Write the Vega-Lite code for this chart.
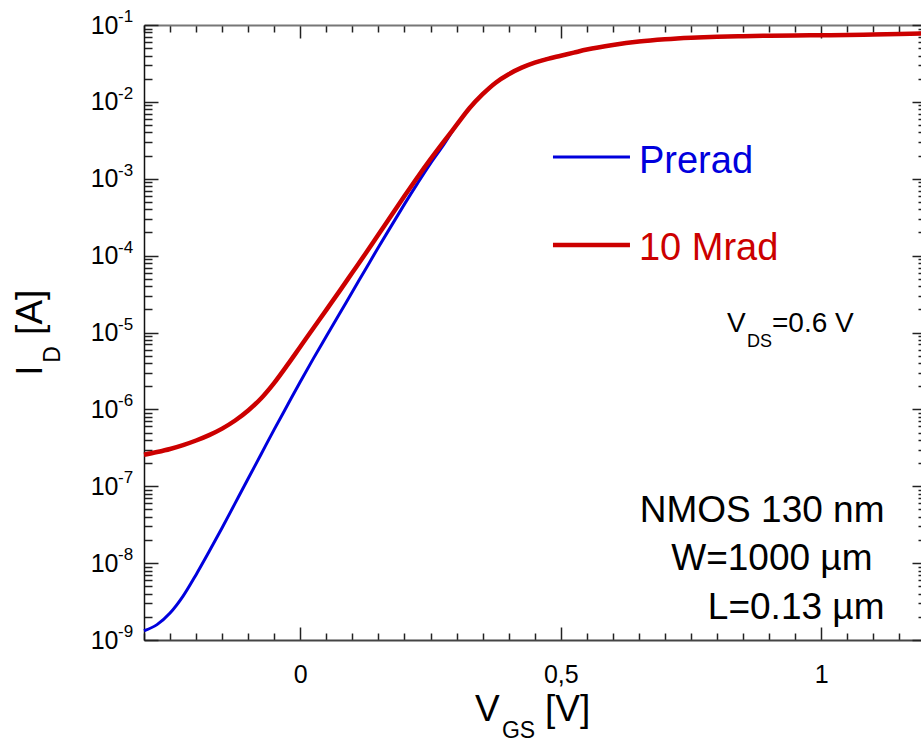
{
"$schema":"https://vega.github.io/schema/vega-lite/v6.json",
"width":777,"height":615,"autosize":"none",
"padding":{"left":144,"top":25,"right":0,"bottom":105},
"background":"white",
"config":{"view":{"stroke":null},"axis":{"grid":false,"labelFont":"Liberation Sans","labelColor":"black","title":null},"text":{"font":"Liberation Sans","color":"black"}},
"datasets":{
"pre":[
{"v":-0.3,"i":1.318e-9},{"v":-0.275,"i":1.585e-9},{"v":-0.25,"i":2.239e-9},{"v":-0.225,"i":3.715e-9},{"v":-0.2,"i":7.079e-9},{"v":-0.175,"i":1.413e-8},{"v":-0.15,"i":2.884e-8},{"v":-0.125,"i":6.026e-8},{"v":-0.1,"i":1.259e-7},{"v":-0.075,"i":2.630e-7},{"v":-0.05,"i":5.495e-7},{"v":-0.025,"i":1.122e-6},{"v":0,"i":2.291e-6},{"v":0.025,"i":4.571e-6},{"v":0.05,"i":8.913e-6},{"v":0.075,"i":1.738e-5},{"v":0.1,"i":3.388e-5},{"v":0.125,"i":6.607e-5},{"v":0.15,"i":1.288e-4},{"v":0.175,"i":2.455e-4},{"v":0.2,"i":4.677e-4},{"v":0.225,"i":8.710e-4},{"v":0.25,"i":1.585e-3},{"v":0.275,"i":2.754e-3},{"v":0.3,"i":5.012e-3},{"v":0.325,"i":8.318e-3},{"v":0.35,"i":1.259e-2},{"v":0.375,"i":1.778e-2},{"v":0.4,"i":2.291e-2},{"v":0.425,"i":2.786e-2},{"v":0.45,"i":3.236e-2},{"v":0.475,"i":3.631e-2},{"v":0.5,"i":3.981e-2},{"v":0.525,"i":4.37e-2},{"v":0.55,"i":4.79e-2},{"v":0.6,"i":5.50e-2},{"v":0.65,"i":6.10e-2},{"v":0.7,"i":6.53e-2},{"v":0.75,"i":6.84e-2},{"v":0.8,"i":7.05e-2},{"v":0.85,"i":7.16e-2},{"v":0.9,"i":7.24e-2},{"v":0.95,"i":7.31e-2},{"v":1.0,"i":7.36e-2},{"v":1.05,"i":7.41e-2},{"v":1.1,"i":7.50e-2},{"v":1.15,"i":7.62e-2},{"v":1.2,"i":7.76e-2}],
"rad":[
{"v":-0.3,"i":2.570e-7},{"v":-0.275,"i":2.786e-7},{"v":-0.25,"i":3.055e-7},{"v":-0.225,"i":3.428e-7},{"v":-0.2,"i":3.936e-7},{"v":-0.175,"i":4.624e-7},{"v":-0.15,"i":5.623e-7},{"v":-0.125,"i":7.161e-7},{"v":-0.1,"i":9.661e-7},{"v":-0.075,"i":1.396e-6},{"v":-0.05,"i":2.213e-6},{"v":-0.025,"i":3.758e-6},{"v":0,"i":6.531e-6},{"v":0.025,"i":1.135e-5},{"v":0.05,"i":1.972e-5},{"v":0.075,"i":3.428e-5},{"v":0.1,"i":6.026e-5},{"v":0.125,"i":1.059e-4},{"v":0.15,"i":1.884e-4},{"v":0.175,"i":3.350e-4},{"v":0.2,"i":5.957e-4},{"v":0.225,"i":1.047e-3},{"v":0.25,"i":1.799e-3},{"v":0.275,"i":3.020e-3},{"v":0.3,"i":5.012e-3},{"v":0.325,"i":8.318e-3},{"v":0.35,"i":1.259e-2},{"v":0.375,"i":1.778e-2},{"v":0.4,"i":2.291e-2},{"v":0.425,"i":2.786e-2},{"v":0.45,"i":3.236e-2},{"v":0.475,"i":3.631e-2},{"v":0.5,"i":3.981e-2},{"v":0.525,"i":4.37e-2},{"v":0.55,"i":4.79e-2},{"v":0.6,"i":5.50e-2},{"v":0.65,"i":6.10e-2},{"v":0.7,"i":6.53e-2},{"v":0.75,"i":6.84e-2},{"v":0.8,"i":7.05e-2},{"v":0.85,"i":7.16e-2},{"v":0.9,"i":7.24e-2},{"v":0.95,"i":7.31e-2},{"v":1.0,"i":7.36e-2},{"v":1.05,"i":7.41e-2},{"v":1.1,"i":7.50e-2},{"v":1.15,"i":7.62e-2},{"v":1.2,"i":7.76e-2}],
"exps":[{"v":0.1,"e":"-1"},{"v":0.01,"e":"-2"},{"v":0.001,"e":"-3"},{"v":0.0001,"e":"-4"},{"v":1e-5,"e":"-5"},{"v":1e-6,"e":"-6"},{"v":1e-7,"e":"-7"},{"v":1e-8,"e":"-8"},{"v":1e-9,"e":"-9"}],
"one":[{}]
},
"layer":[
{"data":{"name":"pre"},"mark":{"type":"line","strokeOpacity":0},
 "encoding":{
  "x":{"field":"v","type":"quantitative","scale":{"domain":[-0.3,1.1914],"nice":false,"zero":false},
   "axis":{"orient":"top","labels":false,"values":[-0.3,-0.25,-0.2,-0.15,-0.1,-0.05,0,0.05,0.1,0.15,0.2,0.25,0.3,0.35,0.4,0.45,0.5,0.55,0.6,0.65,0.7,0.75,0.8,0.85,0.9,0.95,1,1.05,1.1,1.15],
    "tickSize":{"condition":{"test":"abs(datum.value*2 - round(datum.value*2)) < 0.001","value":-13},"value":-7},
    "tickColor":"#222","tickWidth":1.5,"domainColor":"#777","domainWidth":2}},
  "y":{"field":"i","type":"quantitative","scale":{"type":"log","domain":[1e-9,0.1],"nice":false},
   "axis":{"orient":"right","offset":5,"labels":false,"values":[1e-9,2e-9,3e-9,4e-9,5e-9,6e-9,7e-9,8e-9,9e-9,1e-8,2e-8,3e-8,4e-8,5e-8,6e-8,7e-8,8e-8,9e-8,1e-7,2e-7,3e-7,4e-7,5e-7,6e-7,7e-7,8e-7,9e-7,1e-6,2e-6,3e-6,4e-6,5e-6,6e-6,7e-6,8e-6,9e-6,1e-5,2e-5,3e-5,4e-5,5e-5,6e-5,7e-5,8e-5,9e-5,1e-4,2e-4,3e-4,4e-4,5e-4,6e-4,7e-4,8e-4,9e-4,1e-3,2e-3,3e-3,4e-3,5e-3,6e-3,7e-3,8e-3,9e-3,1e-2,2e-2,3e-2,4e-2,5e-2,6e-2,7e-2,8e-2,9e-2,1e-1],
    "tickSize":{"condition":{"test":"abs(log(datum.value)/LN10 - round(log(datum.value)/LN10)) < 0.001","value":-14},"value":-8},
    "tickColor":"#222","tickWidth":1.5,"domainColor":"#777","domainWidth":2}}}},
{"data":{"name":"pre"},"mark":{"type":"line","color":"#0000dd","strokeWidth":3,"interpolate":"monotone"},
 "encoding":{
  "x":{"field":"v","type":"quantitative","scale":{"domain":[-0.3,1.1914],"nice":false,"zero":false},
   "axis":{"orient":"bottom","values":[-0.3,-0.25,-0.2,-0.15,-0.1,-0.05,0,0.05,0.1,0.15,0.2,0.25,0.3,0.35,0.4,0.45,0.5,0.55,0.6,0.65,0.7,0.75,0.8,0.85,0.9,0.95,1,1.05,1.1,1.15],
    "labelExpr":"abs(datum.value) < 0.001 ? '0' : abs(datum.value - 0.5) < 0.001 ? '0,5' : abs(datum.value - 1) < 0.001 ? '1' : ''",
    "labelFontSize":25,"labelPadding":35,"labelOverlap":false,"labelFlush":false,"labelBound":false,
    "tickSize":{"condition":{"test":"abs(datum.value*2 - round(datum.value*2)) < 0.001","value":-13},"value":-7},
    "tickColor":"#222","tickWidth":1.5,"domainColor":"#444","domainWidth":2}},
  "y":{"field":"i","type":"quantitative","scale":{"type":"log","domain":[1e-9,0.1],"nice":false},
   "axis":{"orient":"left","values":[1e-9,2e-9,3e-9,4e-9,5e-9,6e-9,7e-9,8e-9,9e-9,1e-8,2e-8,3e-8,4e-8,5e-8,6e-8,7e-8,8e-8,9e-8,1e-7,2e-7,3e-7,4e-7,5e-7,6e-7,7e-7,8e-7,9e-7,1e-6,2e-6,3e-6,4e-6,5e-6,6e-6,7e-6,8e-6,9e-6,1e-5,2e-5,3e-5,4e-5,5e-5,6e-5,7e-5,8e-5,9e-5,1e-4,2e-4,3e-4,4e-4,5e-4,6e-4,7e-4,8e-4,9e-4,1e-3,2e-3,3e-3,4e-3,5e-3,6e-3,7e-3,8e-3,9e-3,1e-2,2e-2,3e-2,4e-2,5e-2,6e-2,7e-2,8e-2,9e-2,1e-1],
    "labelExpr":"abs(log(datum.value)/LN10 - round(log(datum.value)/LN10)) < 0.001 ? '10' : ''",
    "labelFontSize":25,"labelPadding":40,"labelOverlap":false,"labelFlush":false,"labelBound":false,
    "tickSize":{"condition":{"test":"abs(log(datum.value)/LN10 - round(log(datum.value)/LN10)) < 0.001","value":-14},"value":-8},
    "tickColor":"#222","tickWidth":1.5,"domainColor":"#111","domainWidth":1.5}}}},
{"data":{"name":"rad"},"mark":{"type":"line","color":"#cc0000","strokeWidth":4.5,"interpolate":"monotone"},
 "encoding":{"x":{"field":"v","type":"quantitative","axis":null},"y":{"field":"i","type":"quantitative","scale":{"type":"log"},"axis":null}}},
{"data":{"name":"exps"},"mark":{"type":"text","align":"left","baseline":"alphabetic","dx":-26,"dy":-3,"fontSize":17},
 "encoding":{"x":{"datum":-0.3,"type":"quantitative","axis":null},"y":{"field":"v","type":"quantitative","scale":{"type":"log"},"axis":null},"text":{"field":"e"}}},
{"data":{"name":"one"},"mark":{"type":"rule","color":"#0000dd","strokeWidth":3},
 "encoding":{"x":{"datum":0.485,"type":"quantitative","axis":null},"x2":{"datum":0.6328},"y":{"datum":1.92e-3,"type":"quantitative","scale":{"type":"log"},"axis":null}}},
{"data":{"name":"one"},"mark":{"type":"rule","color":"#cc0000","strokeWidth":4.5},
 "encoding":{"x":{"datum":0.485,"type":"quantitative","axis":null},"x2":{"datum":0.6328},"y":{"datum":1.377e-4,"type":"quantitative","scale":{"type":"log"},"axis":null}}},
{"data":{"name":"one"},"mark":{"type":"text","text":"Prerad","align":"left","baseline":"alphabetic","fontSize":38,"color":"#0000dd"},
 "encoding":{"x":{"datum":0.6501,"type":"quantitative","axis":null},"y":{"datum":1.19e-3,"type":"quantitative","scale":{"type":"log"},"axis":null}}},
{"data":{"name":"one"},"mark":{"type":"text","text":"10 Mrad","align":"left","baseline":"alphabetic","fontSize":38,"color":"#cc0000"},
 "encoding":{"x":{"datum":0.6501,"type":"quantitative","axis":null},"y":{"datum":8.79e-5,"type":"quantitative","scale":{"type":"log"},"axis":null}}},
{"data":{"name":"one"},"mark":{"type":"text","text":"V","align":"left","baseline":"alphabetic","fontSize":28},
 "encoding":{"x":{"datum":0.819,"type":"quantitative","axis":null},"y":{"datum":1.02e-5,"type":"quantitative","scale":{"type":"log"},"axis":null}}},
{"data":{"name":"one"},"mark":{"type":"text","text":"DS","align":"left","baseline":"alphabetic","fontSize":18},
 "encoding":{"x":{"datum":0.8574,"type":"quantitative","axis":null},"y":{"datum":6.5e-6,"type":"quantitative","scale":{"type":"log"},"axis":null}}},
{"data":{"name":"one"},"mark":{"type":"text","text":"=0.6 V","align":"left","baseline":"alphabetic","fontSize":28},
 "encoding":{"x":{"datum":0.9054,"type":"quantitative","axis":null},"y":{"datum":1.02e-5,"type":"quantitative","scale":{"type":"log"},"axis":null}}},
{"data":{"name":"one"},"mark":{"type":"text","text":"NMOS 130 nm","align":"right","baseline":"alphabetic","fontSize":37},
 "encoding":{"x":{"datum":1.1213,"type":"quantitative","axis":null},"y":{"datum":3.47e-8,"type":"quantitative","scale":{"type":"log"},"axis":null}}},
{"data":{"name":"one"},"mark":{"type":"text","text":"W=1000 µm","align":"right","baseline":"alphabetic","fontSize":37},
 "encoding":{"x":{"datum":1.0983,"type":"quantitative","axis":null},"y":{"datum":8.18e-9,"type":"quantitative","scale":{"type":"log"},"axis":null}}},
{"data":{"name":"one"},"mark":{"type":"text","text":"L=0.13 µm","align":"right","baseline":"alphabetic","fontSize":37},
 "encoding":{"x":{"datum":1.1213,"type":"quantitative","axis":null},"y":{"datum":1.89e-9,"type":"quantitative","scale":{"type":"log"},"axis":null}}},
{"data":{"name":"one"},"mark":{"type":"text","text":"I","angle":270,"align":"left","baseline":"alphabetic","fontSize":37},
 "encoding":{"x":{"datum":-0.4958,"type":"quantitative","axis":null},"y":{"datum":2.73e-6,"type":"quantitative","scale":{"type":"log"},"axis":null}}},
{"data":{"name":"one"},"mark":{"type":"text","text":"D","angle":270,"align":"left","baseline":"alphabetic","fontSize":23},
 "encoding":{"x":{"datum":-0.4612,"type":"quantitative","axis":null},"y":{"datum":4.03e-6,"type":"quantitative","scale":{"type":"log"},"axis":null}}},
{"data":{"name":"one"},"mark":{"type":"text","text":"[A]","angle":270,"align":"left","baseline":"alphabetic","fontSize":37},
 "encoding":{"x":{"datum":-0.4958,"type":"quantitative","axis":null},"y":{"datum":9.31e-6,"type":"quantitative","scale":{"type":"log"},"axis":null}}},
{"data":{"name":"one"},"mark":{"type":"text","text":"V","align":"left","baseline":"alphabetic","fontSize":37},
 "encoding":{"x":{"datum":0.3353,"type":"quantitative","axis":null},"y":{"datum":8.71e-11,"type":"quantitative","scale":{"type":"log"},"axis":null}}},
{"data":{"name":"one"},"mark":{"type":"text","text":"GS","align":"left","baseline":"alphabetic","fontSize":23},
 "encoding":{"x":{"datum":0.3871,"type":"quantitative","axis":null},"y":{"datum":5.35e-11,"type":"quantitative","scale":{"type":"log"},"axis":null}}},
{"data":{"name":"one"},"mark":{"type":"text","text":"[V]","align":"left","baseline":"alphabetic","fontSize":37},
 "encoding":{"x":{"datum":0.4697,"type":"quantitative","axis":null},"y":{"datum":8.71e-11,"type":"quantitative","scale":{"type":"log"},"axis":null}}}
],
"resolve":{"axis":{"x":"independent","y":"independent"}}
}
